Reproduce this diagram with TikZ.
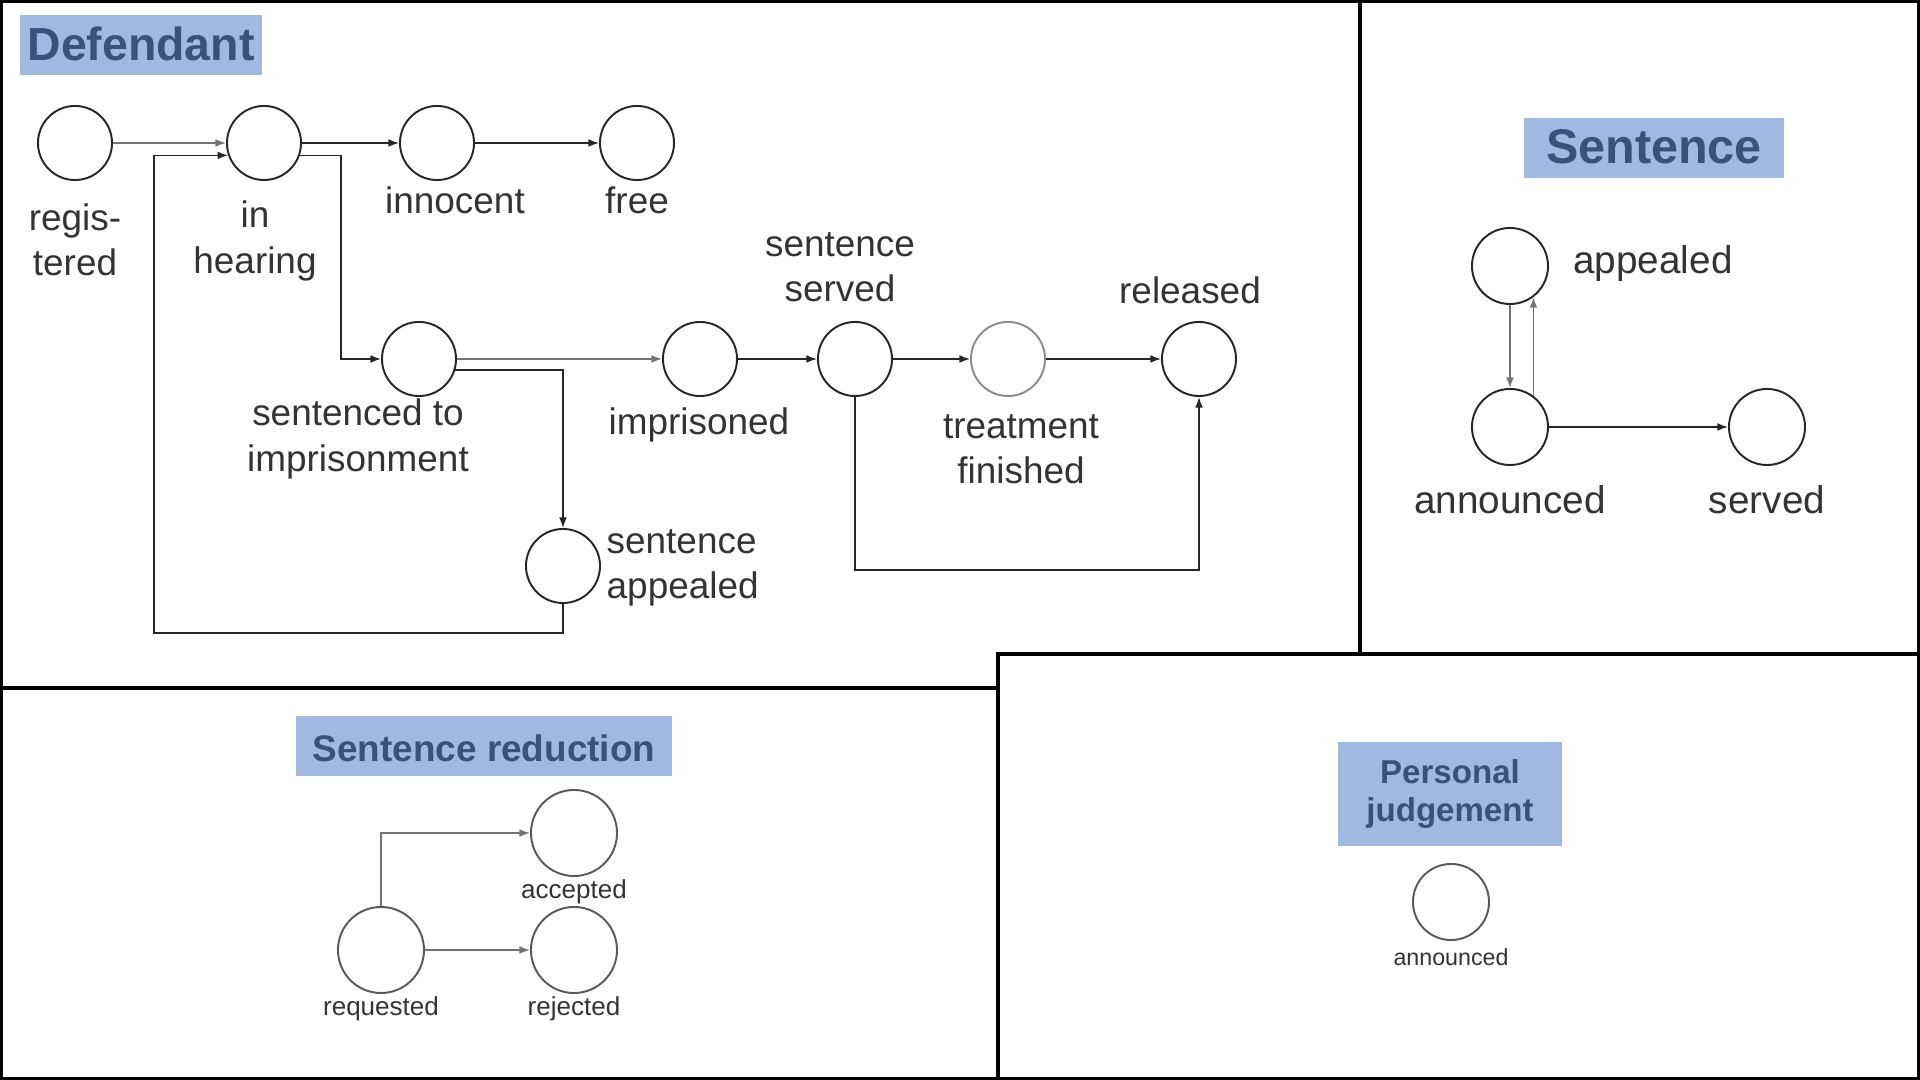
\documentclass[tikz,border=0pt]{standalone}
\usepackage{fontspec}
\setmainfont{Liberation Sans}
\usetikzlibrary{
  arrows.meta,
  positioning,
  calc
}
\definecolor{titulofundo}{RGB}{161,184,224}
\definecolor{titulotexto}{RGB}{59,81,121}
\definecolor{texto}{RGB}{51,51,51}

\begin{document}
\begin{tikzpicture}[
      x=0.01cm, y=-0.01cm,
      estado/.style={circle, draw=black!85, line width=0.55pt, minimum size=0.74cm, inner sep=0pt},
      estado_med/.style={estado, minimum size=0.76cm},
      estado_red/.style={estado, draw=black!65, minimum size=0.86cm},
      rotulo/.style={text=texto, align=center, inner sep=0pt, yshift=-0.03cm, font=\fontsize{10.5}{12.9}\selectfont},
      rotulo_med/.style={rotulo, font=\fontsize{11}{13}\selectfont},
      titulo/.style={fill=titulofundo, text=titulotexto, align=center, inner sep=0pt, font=\bfseries},
      titulo_linha/.style={titulo, text height=0.88em, text depth=0pt},
      seta/.style={-{Latex[length=3pt,width=2.2pt]}, line width=0.4pt, black!85},
      seta_cinza/.style={seta, black!55},
      borda/.style={line width=1.1pt, black}
  ]
      \useasboundingbox (0,0) rectangle (1920,1080);

      % Molduras
      \draw[borda] (1.5,1.5) rectangle (1918.5,1078.5);
      \draw[borda] (1360,0) -- (1360,654);
      \draw[borda] (0,688) -- (998,688);
      \draw[borda] (998,1080) -- (998,654) -- (1920,654);

      % Defendant
      \node[titulo_linha, minimum width=2.42cm, minimum height=0.59cm, font=\bfseries\fontsize{13.2}{15}\selectfont] (tdef) at (141,45) {Defendant};

      \node[estado] (reg) at (75,143) {};
      \node[estado] (hear) at (264,143) {};
      \node[estado] (inno) at (437,143) {};
      \node[estado] (free) at (637,143) {};
      \node[estado] (sent) at (419,359) {};
      \node[estado] (impr) at (700,359) {};
      \node[estado] (serv) at (855,359) {};
      \node[estado, draw=black!45] (treat) at (1008,359) {};
      \node[estado] (rel) at (1199,359) {};
      \node[estado] (appl) at (563,566) {};

      \node[rotulo] (lreg) at (75,237) {regis-\\tered};
      \node[rotulo] (lhear) at (255,238) {in\\hearing};
      \node[rotulo] (linno) at (455,197) {innocent};
      \node[rotulo] (lfree) at (637,197) {free};
      \node[rotulo] (lserv) at (840,264) {sentence\\served};
      \node[rotulo] (lrel) at (1190,287) {released};
      \node[rotulo] (lsent) at (358,436) {sentenced to\\imprisonment};
      \node[rotulo] (limpr) at (699,422) {imprisoned};
      \node[rotulo] (ltreat) at (1021,446) {treatment\\finished};
      \node[rotulo, anchor=west, align=left] (lappl) at (606,565) {sentence\\appealed};

      \draw[seta_cinza] (reg) -- (hear);
      \draw[seta] (hear) -- (inno);
      \draw[seta] (inno) -- (free);
      \draw[seta] (hear.-19) -- ++(41,0) |- (sent.west);
      \draw[seta_cinza] (sent) -- (impr);
      \draw[seta] (sent.-17) -| (appl.north);
      \draw[seta] (impr) -- (serv);
      \draw[seta] (serv) -- (treat);
      \draw[seta] (treat) -- (rel);
      \draw[seta] (serv.south) -- ++(0,173) -| (rel.south);

      % Retorno da apelacao para a audiencia
      \coordinate (volta) at (154,633);
      \draw[seta] (appl.south) |- (volta) |- (hear.-161);

      % Sentence
      \node[titulo_linha, minimum width=2.59cm, minimum height=0.60cm, font=\bfseries\fontsize{13.8}{16}\selectfont] (tsen) at (1654,148) {Sentence};

      \node[estado_med] (sapp) at (1510,266) {};
      \node[estado_med] (sann) at (1510,427) {};
      \node[estado_med] (sserv) at (1767,427) {};

      \node[rotulo_med] (lsapp) at (1653,261) {appealed};
      \node[rotulo_med] (lsann) at (1510,497) {announced};
      \node[rotulo_med] (lsserv) at (1767,497) {served};

      \draw[seta_cinza] (sapp.south) -- (sann.north);
      \draw[seta_cinza] (sann.53) -- (sapp.-53);
      \draw[seta] (sann) -- (sserv);

      % Sentence reduction
      \node[titulo_linha, minimum width=3.76cm, minimum height=0.60cm, font=\bfseries\fontsize{10.5}{12}\selectfont] (tred) at (484,746) {Sentence reduction};

      \node[estado_red] (acc) at (574,833) {};
      \node[estado_red] (req) at (381,950) {};
      \node[estado_red] (rej) at (574,950) {};

      \node[rotulo, font=\fontsize{7.4}{9}\selectfont] (lacc) at (574,889) {accepted};
      \node[rotulo, font=\fontsize{7.4}{9}\selectfont] (lreq) at (381,1006) {requested};
      \node[rotulo, font=\fontsize{7.4}{9}\selectfont] (lrej) at (574,1006) {rejected};

      \draw[seta_cinza] (req.north) |- (acc.west);
      \draw[seta_cinza] (req) -- (rej);

      % Personal judgement
      \node[titulo, minimum width=2.24cm, minimum height=1.04cm, font=\bfseries\fontsize{9.4}{11}\selectfont] (tpers) at (1450,794) {Personal\\judgement};

      \node[estado_red, minimum size=0.76cm] (pann) at (1451,902) {};
      \node[rotulo, font=\fontsize{6.6}{8}\selectfont] (lpann) at (1451,954) {announced};

  \end{tikzpicture}
\end{document}
